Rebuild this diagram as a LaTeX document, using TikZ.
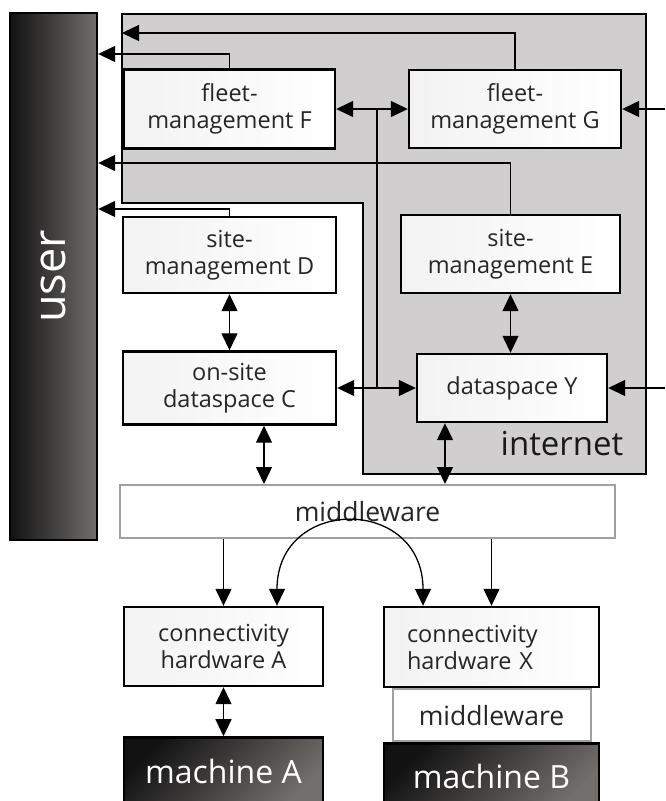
\documentclass[tikz,border=0pt]{standalone}
\usepackage{fontspec}
\setmainfont{Open Sans}
\usepackage{graphicx}
\usetikzlibrary{arrows.meta,positioning}

\definecolor{netgray}{RGB}{208,206,206}
\definecolor{darkend}{RGB}{18,18,18}
\definecolor{lightend}{RGB}{114,110,108}
\definecolor{mwborder}{RGB}{160,160,160}

\tikzset{
  % plain connector
  narr/.style = {
    draw = black,
    line width = 1.3pt
  },
  % connector with a head at its end
  arr/.style = {
    narr,
    -{Triangle[length=17pt,width=16pt]}
  },
  % connector with heads at both ends
  darr/.style = {
    narr,
    {Triangle[length=17pt,width=16pt]}-{Triangle[length=17pt,width=16pt]}
  },
  % light component box
  comp/.style = {
    draw = black,
    line width = 2.4pt,
    rectangle,
    left color = black!5,
    right color = white,
    text = black!85,
    align = center,
    inner sep = 0,
    font = \fontsize{23.5}{27}\selectfont
  },
  % middleware layer
  mware/.style = {
    draw = mwborder,
    line width = 2pt,
    fill = white,
    rectangle,
    text = black!85,
    inner sep = 0,
    font = \fontsize{26.5}{30}\selectfont
  },
  % dark box (user, machines)
  dark/.style = {
    draw = black,
    line width = 2.4pt,
    rectangle,
    left color = darkend,
    right color = lightend,
    text = white,
    inner sep = 0
  },
  % internet area
  netarea/.style = {
    draw = black,
    line width = 2.4pt,
    fill = netgray
  }
}

\begin{document}
\begin{tikzpicture}[x=1pt, y=-1pt]
    \useasboundingbox (0,0) rectangle (665,801);

    % internet area
    \draw[netarea] (122,14) -- (646,14) -- (646,474) -- (363,474)
      -- (363,203) -- (122,203) -- cycle;
    \node[font=\fontsize{33}{36}\selectfont, text=black!90] (internet) at (562,444) {internet};

    \node[dark, minimum width=87pt, minimum height=527pt] (user) at (53.5,276.5)
      {\fontsize{45}{48}\selectfont\rotatebox{90}{user}};

    \node[comp, minimum width=211pt, minimum height=79pt] (F) at (229.5,109) {fleet-\\management F};
    \node[comp, minimum width=212pt, minimum height=78pt] (G) at (515,109) {fleet-\\management G};
    \node[comp, minimum width=213pt, minimum height=76pt] (D) at (229.5,255) {site-\\management D};
    \node[comp, minimum width=219pt, minimum height=78pt] (E) at (510.5,254) {site-\\management E};
    \node[comp, minimum width=213pt, minimum height=73pt] (C) at (229.5,388) {on-site\\dataspace C};
    \node[comp, minimum width=190pt, minimum height=68pt] (Y) at (512,388) {dataspace Y};

    \node[mware, minimum width=495pt, minimum height=53pt] (mw) at (367.5,511.5) {middleware};

    \node[comp, minimum width=199pt, minimum height=79pt] (hwA) at (223.5,646.5) {connectivity\\hardware A};
    \node[comp, minimum width=215pt, minimum height=80pt, text width=169pt, align=left]
      (hwX) at (491.5,647) {connectivity\\hardware X};
    \node[mware, minimum width=198pt, minimum height=52pt] (mwX) [below=0pt of hwX] {middleware};

    \node[dark, minimum width=199pt, minimum height=68pt, shading angle=45,
      font=\fontsize{32}{36}\selectfont] (mA) [below=49pt of hwA] {machine A};
    \node[dark, minimum width=215pt, minimum height=66pt, shading angle=45,
      font=\fontsize{32}{36}\selectfont] (mB) [below=0pt of mwX] {machine B};

    % links towards the user
    \coordinate (g-in) at (122,33);
    \coordinate (f-up) at (0,54);
    \coordinate (e-up) at (0,163);
    \coordinate (d-up) at (0,209);
    \draw[arr] (G.north) |- (g-in);
    \draw[arr] (F.north) |- (user.east |- f-up);
    \draw[arr] (E.north) |- (user.east |- e-up);
    \draw[arr] (D.north) |- (user.east |- d-up);

    % links between the boxes
    \coordinate (bus) at (377,0);
    \draw[darr] (F.east) -- (G.west);
    \draw[darr] (C.east) -- (Y.west);
    \draw[narr] (bus |- F.east) -- (bus |- C.east);
    \draw[darr] (D.south) -- (C.north);
    \draw[darr] (E.south) -- (E.south |- Y.north);

    % outside feeds
    \coordinate (ext) at (665,0);
    \draw[arr] (ext |- G.east) -- (G.east);
    \draw[arr] (ext |- Y.east) -- (Y.east);

    % down to the middleware
    \coordinate (c-down) at (264,0);
    \coordinate (y-down) at (445,0);
    \draw[darr] (c-down |- C.south) -- (c-down |- mw.north);
    \draw[darr] (y-down |- Y.south) -- (y-down |- mw.north);

    % middleware to the hardware
    \coordinate (swap-a) at (277,0);
    \coordinate (swap-x) at (423,0);
    \draw[arr] (mw.south -| hwA.north) -- (hwA.north);
    \draw[arr] (mw.south -| hwX.north) -- (hwX.north);
    \draw[darr] (swap-a |- hwA.north) .. controls +(0,-110) and +(0,-110) .. (swap-x |- hwX.north);
    \draw[darr] (hwA.south) -- (mA.north);
\end{tikzpicture}
\end{document}
